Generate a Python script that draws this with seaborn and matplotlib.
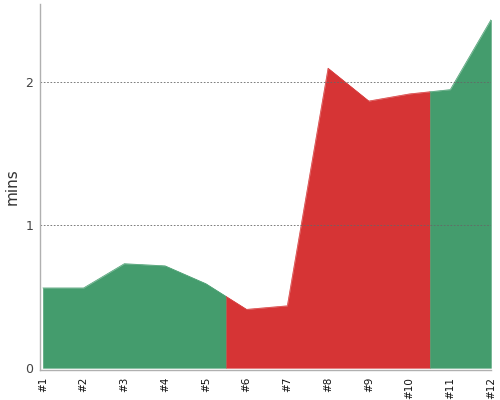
import numpy as np
import pandas as pd
import seaborn as sns
import matplotlib.pyplot as plt

# Data
labels = ["#1", "#2", "#3", "#4", "#5", "#6", "#7", "#8", "#9", "#10", "#11", "#12"]
minutes = [0.56, 0.56, 0.73, 0.715, 0.59, 0.41, 0.435, 2.10, 1.87, 1.92, 1.95, 2.44]
status = ["ok", "ok", "ok", "ok", "ok", "bad", "bad", "bad", "bad", "bad", "ok", "ok"]

colors = {"ok": "#449c6d", "bad": "#d63435"}

df = pd.DataFrame({"run": np.arange(1, len(labels) + 1), "mins": minutes, "status": status})

sns.set_style("white")
fig, ax = plt.subplots(figsize=(5, 4), dpi=100)
fig.subplots_adjust(left=0.08, right=0.982, bottom=0.075, top=0.99)

# split into runs of the same status, switching colour halfway between points
x = df["run"].to_numpy(dtype=float)
y = df["mins"].to_numpy(dtype=float)
start = 0
for i in range(1, len(df) + 1):
    if i == len(df) or df["status"][i] != df["status"][start]:
        xs = list(x[start:i])
        ys = list(y[start:i])
        if start > 0:
            xs.insert(0, (x[start - 1] + x[start]) / 2)
            ys.insert(0, (y[start - 1] + y[start]) / 2)
        if i < len(df):
            xs.append((x[i - 1] + x[i]) / 2)
            ys.append((y[i - 1] + y[i]) / 2)
        c = colors[df["status"][start]]
        ax.fill_between(xs, 0, ys, facecolor=c, edgecolor=c, linewidth=0.3, zorder=1)
        sns.lineplot(x=xs, y=ys, ax=ax, color=c, linewidth=0.5, zorder=1)
        start = i

ax.set_xlim(0.93, 12.0)
ax.set_ylim(-0.015, 2.55)
ax.set_xticks(df["run"])
ax.set_xticklabels(labels, rotation=90, fontsize=7.5)
ax.set_yticks([0, 1, 2])
ax.set_yticklabels(["0", "1", "2"], fontsize=9, color="#444444")
ax.set_ylabel("mins", fontsize=11, color="#333333")
ax.set_xlabel("")

for yv in [1, 2]:
    ax.axhline(yv, color="#666666", linestyle=(0, (2, 2)), linewidth=0.6, zorder=2)

for side in ["top", "right"]:
    ax.spines[side].set_visible(False)
for side in ["left", "bottom"]:
    ax.spines[side].set_color("#b0b0b0")
    ax.spines[side].set_linewidth(1)
ax.tick_params(axis="both", which="both", length=3, color="#b0b0b0", pad=2)
ax.tick_params(axis="x", labelcolor="#111111")

plt.savefig("out.png", dpi=100)
